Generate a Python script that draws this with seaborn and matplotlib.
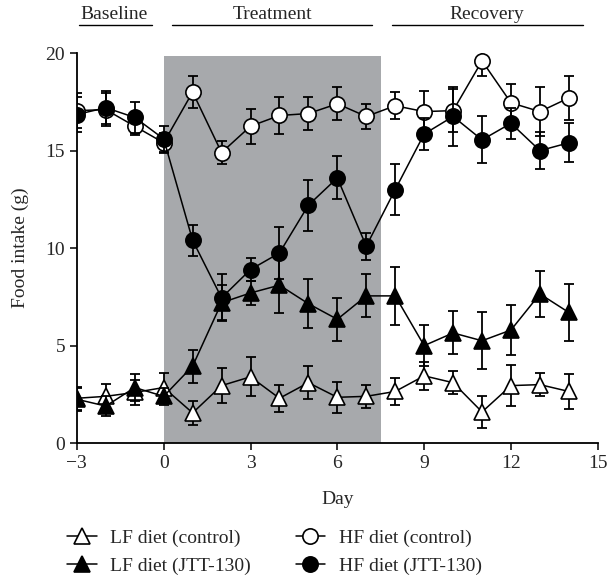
import numpy as np
import pandas as pd
import matplotlib
matplotlib.use('Agg')
import matplotlib.pyplot as plt
import matplotlib.transforms as mtransforms
import seaborn as sns

# Day of study
days = [-3, -2, -1, 0, 1, 2, 3, 4, 5, 6, 7, 8, 9, 10, 11, 12, 13, 14]

# Food intake (g), mean and SEM
lf_ctrl = [2.3, 2.4, 2.6, 2.85, 1.55, 2.95, 3.4, 2.3, 3.1, 2.35, 2.4, 2.65, 3.45, 3.1, 1.6, 2.95, 3.0, 2.65]
lf_ctrl_err = [0.6, 0.65, 0.65, 0.75, 0.6, 0.9, 1.0, 0.7, 0.85, 0.8, 0.6, 0.7, 0.7, 0.6, 0.8, 1.05, 0.6, 0.9]
lf_jtt = [2.25, 1.9, 2.85, 2.4, 3.95, 7.2, 7.7, 8.1, 7.15, 6.35, 7.55, 7.55, 5.0, 5.65, 5.25, 5.8, 7.65, 6.7]
lf_jtt_err = [0.6, 0.5, 0.7, 0.45, 0.85, 0.9, 0.6, 1.45, 1.25, 1.1, 1.1, 1.5, 1.05, 1.1, 1.45, 1.3, 1.2, 1.45]
hf_ctrl = [17.05, 17.1, 16.25, 15.4, 18.0, 14.9, 16.25, 16.8, 16.9, 17.4, 16.75, 17.3, 17.0, 17.05, 19.6, 17.45, 17.0, 17.7]
hf_ctrl_err = [0.9, 0.85, 0.45, 0.5, 0.8, 0.6, 0.9, 0.95, 0.85, 0.85, 0.65, 0.7, 1.05, 1.1, 0.8, 0.95, 1.25, 1.15]
hf_jtt = [16.85, 17.2, 16.7, 15.6, 10.4, 7.45, 8.9, 9.75, 12.2, 13.6, 10.1, 13.0, 15.85, 16.75, 15.55, 16.4, 15.0, 15.4]
hf_jtt_err = [0.9, 0.85, 0.8, 0.65, 0.8, 1.2, 0.6, 1.35, 1.3, 1.1, 0.7, 1.3, 0.8, 1.5, 1.2, 0.8, 0.95, 1.0]

labels = ['LF diet (control)', 'LF diet (JTT-130)', 'HF diet (control)', 'HF diet (JTT-130)']
markers = ['^', '^', 'o', 'o']
faces = ['white', 'black', 'white', 'black']

phases = ['Baseline', 'Treatment', 'Recovery']
phase_text_x = [-1.7, 3.75, 11.15]
phase_line = [(-2.93, -0.42), (0.28, 7.2), (7.9, 14.5)]

sns.set_style('ticks')
plt.rcParams['font.family'] = ['Liberation Serif', 'DejaVu Serif']
plt.rcParams['font.size'] = 14

fig = plt.figure(figsize=(6.1, 5.77), dpi=100)
ax = fig.add_axes([0.126, 0.232, 0.854, 0.676])

# treatment period shading
ax.axvspan(0, 7.5, ymin=0, ymax=19.85 / 20, color='#a7a9ac', lw=0, zorder=0)

series = [(lf_ctrl, lf_ctrl_err), (lf_jtt, lf_jtt_err), (hf_ctrl, hf_ctrl_err), (hf_jtt, hf_jtt_err)]
handles = []
for i, ((vals, errs), lab) in enumerate(zip(series, labels)):
    df = pd.DataFrame({'day': days, 'intake': vals})
    ax.errorbar(df['day'], df['intake'], yerr=errs, fmt='none', ecolor='black',
                elinewidth=1.3, capsize=3.8, capthick=1.3, zorder=2 + i)
    sns.lineplot(data=df, x='day', y='intake', ax=ax, color='black', lw=1.1,
                 marker=markers[i], markersize=11 if markers[i] == 'o' else 12,
                 markerfacecolor=faces[i], markeredgecolor='black', markeredgewidth=1.2,
                 label=lab, zorder=3 + i, legend=False)
    handles.append(ax.lines[-1])

ax.set_xlim(-3, 15)
ax.set_ylim(0, 20)
ax.set_xticks([-3, 0, 3, 6, 9, 12, 15])
ax.set_xticklabels(['\u22123', '0', '3', '6', '9', '12', '15'])
ax.set_yticks([0, 5, 10, 15, 20])
ax.set_xlabel('Day', labelpad=14)
ax.set_ylabel('Food intake (g)', labelpad=12)
ax.tick_params(direction='out', length=5, width=1.3, labelsize=14)
sns.despine(ax=ax)
for s in ['left', 'bottom']:
    ax.spines[s].set_linewidth(1.3)
    ax.spines[s].set_color('black')

# phase labels above the plot
trans = mtransforms.blended_transform_factory(ax.transData, ax.transAxes)
for name, tx, (x0, x1) in zip(phases, phase_text_x, phase_line):
    ax.text(tx, 1.077, name, transform=trans, ha='center', va='bottom', fontsize=14)
    ax.plot([x0, x1], [1.073, 1.073], transform=trans, color='black', lw=1.0, clip_on=False)

fig.legend(handles=handles, labels=labels, ncol=2, loc='center',
           bbox_to_anchor=(0.45, 0.043), frameon=False, handlelength=1.5,
           columnspacing=2.3, labelspacing=0.55, handletextpad=0.7, fontsize=14)

fig.savefig('out.png', dpi=100)
